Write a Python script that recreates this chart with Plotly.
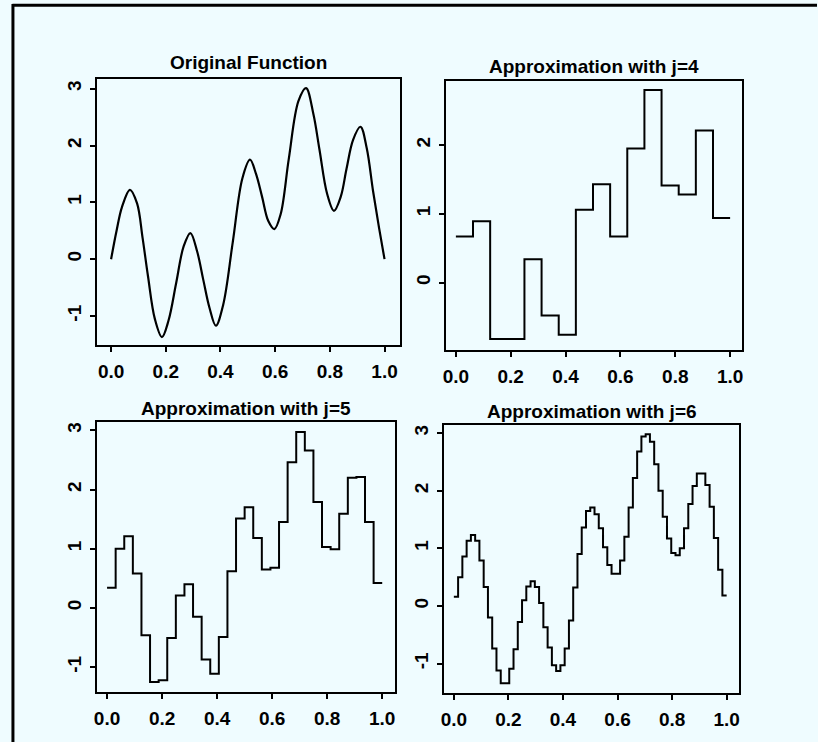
import numpy as np
import plotly.graph_objects as go

# ---------------- data ----------------
orig_x = [0.000, 0.020, 0.040, 0.069, 0.095, 0.115, 0.135, 0.160, 0.186,
          0.210, 0.238, 0.265, 0.290, 0.315, 0.337, 0.360, 0.383, 0.410,
          0.445, 0.480, 0.508, 0.530, 0.552, 0.575, 0.597, 0.620, 0.650,
          0.685, 0.713, 0.740, 0.762, 0.790, 0.815, 0.840, 0.861, 0.885,
          0.912, 0.935, 0.958, 0.980, 1.000]
orig_y = [0.00, 0.50, 0.92, 1.22, 0.98, 0.38, -0.30, -1.05, -1.37,
          -1.08, -0.42, 0.22, 0.46, 0.13, -0.36, -0.86, -1.17, -0.80,
          0.30, 1.42, 1.75, 1.50, 1.10, 0.67, 0.53, 0.79, 1.77,
          2.78, 3.01, 2.55, 1.93, 1.15, 0.85, 1.10, 1.59, 2.10,
          2.33, 1.95, 1.20, 0.55, 0.00]

approx_j4 = [0.67, 0.89, -0.82, -0.82, 0.34, -0.48, -0.76, 1.06,
             1.43, 0.67, 1.95, 2.80, 1.41, 1.28, 2.21, 0.94]

approx_j5 = [0.34, 1.00, 1.21, 0.58, -0.46, -1.25, -1.22, -0.51,
             0.21, 0.40, -0.15, -0.87, -1.11, -0.49, 0.62, 1.51,
             1.70, 1.18, 0.65, 0.68, 1.45, 2.46, 2.97, 2.66,
             1.79, 1.03, 0.99, 1.59, 2.20, 2.21, 1.45, 0.42]

approx_j6 = [0.16, 0.50, 0.86, 1.13, 1.23, 1.13, 0.79, 0.33,
             -0.20, -0.74, -1.12, -1.34, -1.34, -1.09, -0.75, -0.28,
             0.10, 0.34, 0.43, 0.33, 0.05, -0.37, -0.72, -1.03,
             -1.13, -1.03, -0.74, -0.25, 0.32, 0.90, 1.36, 1.65,
             1.71, 1.59, 1.35, 1.02, 0.71, 0.56, 0.56, 0.79,
             1.20, 1.71, 2.22, 2.68, 2.94, 2.98, 2.85, 2.46,
             2.00, 1.55, 1.17, 0.92, 0.88, 1.00, 1.35, 1.77,
             2.08, 2.30, 2.30, 2.10, 1.72, 1.18, 0.63, 0.18]

titles = ["Original Function", "Approximation with j=4",
          "Approximation with j=5", "Approximation with j=6"]

x_ticks = [0.0, 0.2, 0.4, 0.6, 0.8, 1.0]
y_ticks_1 = [-1, 0, 1, 2, 3]
y_ticks_2 = [0, 1, 2]
y_ticks_3 = [-1, 0, 1, 2, 3]
y_ticks_4 = [-1, 0, 1, 2, 3]

# ---------------- layout geometry (pixels) ----------------
W, H = 818, 742
BG = "#EFFCFF"
boxes = [  # x0, x1, y0(top), y1(bottom)
    (94, 398, 79, 345),
    (445, 743, 81, 350),
    (94, 393, 422, 692),
    (443, 740, 425, 693),
]
xranges = [[-0.05, 1.055], [-0.035, 1.045], [-0.035, 1.045], [-0.035, 1.047]]
yranges = [[-1.51, 3.17], [-0.98, 2.93], [-1.42, 3.14], [-1.51, 3.14]]
yticks = [y_ticks_1, y_ticks_2, y_ticks_3, y_ticks_4]
title_y = [63, 67, 408, 411]


def steps(vals):
    n = len(vals)
    xs = np.arange(n + 1) / n
    ys = list(vals) + [vals[-1]]
    return xs, ys


fig = go.Figure()

fig.add_trace(go.Scatter(x=orig_x, y=orig_y, mode="lines",
                         line=dict(color="black", width=2.2, shape="spline", smoothing=1.0),
                         xaxis="x", yaxis="y", showlegend=False))
for i, vals in enumerate([approx_j4, approx_j5, approx_j6]):
    xs, ys = steps(vals)
    k = i + 2
    fig.add_trace(go.Scatter(x=xs, y=ys, mode="lines",
                             line=dict(color="black", width=2, shape="hv"),
                             xaxis=f"x{k}", yaxis=f"y{k}", showlegend=False))

font_tick = dict(family="Liberation Sans, Arial, sans-serif", size=19, color="black", weight="bold")
layout = dict(width=W, height=H, margin=dict(l=0, r=0, t=0, b=0),
              paper_bgcolor=BG, plot_bgcolor=BG, showlegend=False)

annotations = []
for i, (x0, x1, y0, y1) in enumerate(boxes):
    sfx = "" if i == 0 else str(i + 1)
    xd = [x0 / W, x1 / W]
    yd = [1 - y1 / H, 1 - y0 / H]
    layout["xaxis" + sfx] = dict(
        domain=xd, range=xranges[i], anchor="y" + sfx,
        tickvals=x_ticks, ticktext=[f"{v:.1f}" for v in x_ticks],
        ticks="outside", ticklen=5, tickwidth=1.5, tickcolor="black",
        showline=True, linecolor="black", linewidth=2, mirror=True,
        showgrid=False, zeroline=False, tickfont=font_tick,
        ticklabelstandoff=3)
    layout["yaxis" + sfx] = dict(
        domain=yd, range=yranges[i], anchor="x" + sfx,
        tickvals=yticks[i], ticktext=[str(v) for v in yticks[i]],
        ticks="outside", ticklen=5, tickwidth=1.5, tickcolor="black",
        showline=True, linecolor="black", linewidth=2, mirror=True,
        showgrid=False, zeroline=False, tickfont=font_tick, tickangle=-90,
        ticklabelstandoff=2)
    annotations.append(dict(
        text=titles[i], x=(x0 + x1) / 2 / W, y=1 - title_y[i] / H,
        xref="paper", yref="paper", xanchor="center", yanchor="middle",
        showarrow=False,
        font=dict(family="Liberation Sans, Arial, sans-serif", size=19,
                  color="black", weight="bold")))

layout["annotations"] = annotations
layout["shapes"] = [
    dict(type="line", xref="paper", yref="paper", x0=8.5 / W, x1=1.0,
         y0=1 - 5.3 / H, y1=1 - 5.3 / H, line=dict(color="black", width=3)),
    dict(type="line", xref="paper", yref="paper", x0=9 / W, x1=9 / W,
         y0=0.0, y1=1 - 4 / H, line=dict(color="black", width=3)),
]
fig.update_layout(**layout)
fig.write_html("out.html",
               config={"displayModeBar": False},
               post_script="document.documentElement.style.overflow='hidden';"
                           "document.documentElement.style.margin='0';"
                           "document.body.style.margin='0';"
                           "document.body.style.padding='0';"
                           "document.body.style.overflow='hidden';"
                           "document.body.style.background='" + BG + "';")
